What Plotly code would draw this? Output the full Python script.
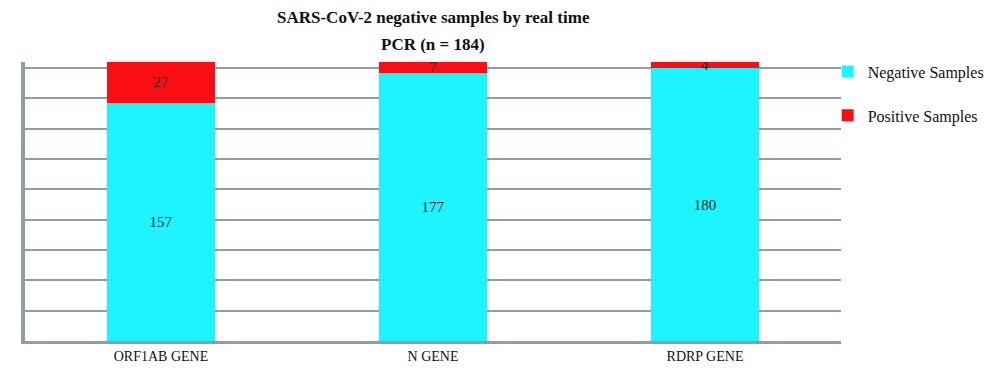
import plotly.graph_objects as go

genes = ["ORF1AB GENE", "N GENE", "RDRP GENE"]
negative = [157, 177, 180]
positive = [27, 7, 4]

title_lines = ["SARS-CoV-2 negative samples by real time", "PCR (n = 184)"]

CYAN = "#1EF4FF"
RED = "#F90E16"
GRID = "#8E9EA6"
FONT = "Liberation Serif"

fig = go.Figure()
fig.add_trace(go.Bar(
    x=genes, y=negative, name="Negative Samples", marker_color=CYAN,
    marker_line_width=0, text=[str(v) for v in negative], textposition="inside",
    insidetextanchor="middle", textangle=0,
    textfont=dict(family=FONT, size=15, color="#222"),
    width=0.4, legendgroup="neg",
))
fig.add_trace(go.Bar(
    x=genes, y=positive, name="Positive Samples", marker_color=RED,
    marker_line_width=0, text=[str(v) for v in positive], textposition="inside",
    insidetextanchor="middle", constraintext="none", textangle=0,
    textfont=dict(family=FONT, size=15, color="#222"),
    width=0.4, legendgroup="pos",
))

fig.update_layout(
    barmode="stack",
    width=984, height=364,
    margin=dict(l=17, r=151, t=54, b=31, autoexpand=False),
    paper_bgcolor="white", plot_bgcolor="white",
    font=dict(family=FONT, size=14, color="#111"),
    showlegend=True,
    legend=dict(xref="container", yref="container", x=0.833, xanchor="left",
                y=0.872, yanchor="top",
                font=dict(family=FONT, size=16, color="#111"),
                tracegroupgap=20, traceorder="grouped", bgcolor="rgba(0,0,0,0)"),
    uniformtext=dict(mode="show", minsize=10),
)
for line, ypos in zip(title_lines, [1.161, 1.061]):
    fig.add_annotation(text="<b>" + line + "</b>", xref="paper", yref="paper",
                       x=0.5, y=ypos, xanchor="center", yanchor="middle",
                       showarrow=False, font=dict(family=FONT, size=17, color="#111"))
fig.update_xaxes(range=[-0.5, 2.5], showgrid=False, showline=True, linecolor=GRID,
                 linewidth=3, ticks="", tickfont=dict(family=FONT, size=14, color="#111"))
fig.update_yaxes(range=[0, 184], dtick=20, tick0=0, showgrid=True, gridcolor=GRID,
                 gridwidth=2, showticklabels=False, showline=True, linecolor=GRID,
                 linewidth=4, zeroline=False, ticks="")

fig.write_html("out.html")
